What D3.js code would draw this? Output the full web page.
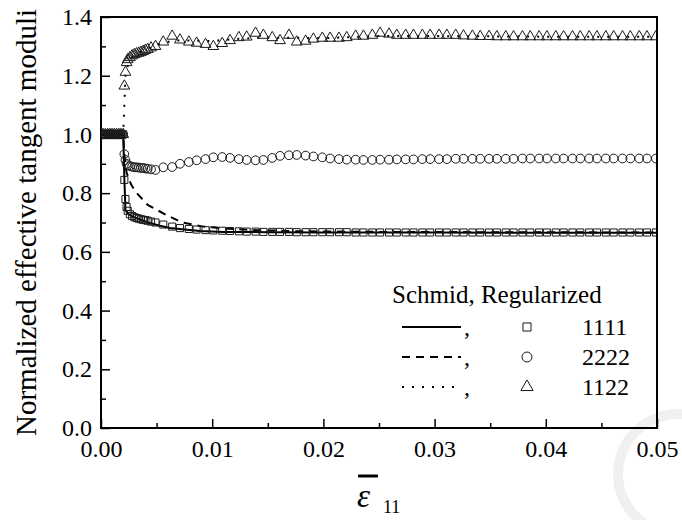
<!DOCTYPE html>
<html>
<head>
<meta charset="utf-8">
<script src="https://d3js.org/d3.v7.min.js"></script>
<style>
  body { margin: 0; background: #fff; }
  svg { display: block; }
  text { font-family: "Liberation Serif", "Times New Roman", serif; fill: #000; }
</style>
</head>
<body>
<div id="chart"></div>
<script>
// component labels, in legend order
const components = ['1111', '2222', '1122'];

// axis ticks
const xTicks = [0, 0.01, 0.02, 0.03, 0.04, 0.05];
const xMinor = [0.005, 0.015, 0.025, 0.035, 0.045];
const yTicks = [0, 0.2, 0.4, 0.6, 0.8, 1.0, 1.2, 1.4];
const yMinor = [0.1, 0.3, 0.5, 0.7, 0.9, 1.1, 1.3];

// Regularized model (markers), shared strain steps
const strainReg = [
    0.0000, 0.0002, 0.0004, 0.0006, 0.0008, 0.0010, 0.0012, 0.0014, 0.0016, 0.0018,
    0.0020, 0.0021, 0.0022, 0.0023, 0.0024, 0.0026, 0.0028, 0.0030, 0.0032, 0.0034,
    0.0036, 0.0038, 0.0040, 0.0042, 0.0045, 0.0049,
    0.0056, 0.0064, 0.0071, 0.0079, 0.0086, 0.0094, 0.0101, 0.0109, 0.0116, 0.0124,
    0.0131, 0.0139, 0.0146, 0.0154, 0.0161, 0.0169, 0.0176, 0.0184, 0.0191, 0.0199,
    0.0206, 0.0214, 0.0221, 0.0229, 0.0236, 0.0244, 0.0251, 0.0259, 0.0266, 0.0274,
    0.0281, 0.0289, 0.0296, 0.0304, 0.0311, 0.0319, 0.0326, 0.0334, 0.0341, 0.0349,
    0.0356, 0.0364, 0.0371, 0.0379, 0.0386, 0.0394, 0.0401, 0.0409, 0.0416, 0.0424,
    0.0431, 0.0439, 0.0446, 0.0454, 0.0461, 0.0469, 0.0476, 0.0484, 0.0491, 0.0499
];
const reg1111 = [
    1, 1, 1, 1, 1, 1, 1, 1, 1, 1,
    1.000, 0.845, 0.780, 0.753, 0.740, 0.728, 0.722, 0.718, 0.715, 0.713,
    0.711, 0.709, 0.708, 0.706, 0.703, 0.700,
    0.693, 0.686, 0.681, 0.678, 0.676, 0.674, 0.673, 0.672, 0.671, 0.670,
    0.669, 0.669, 0.668, 0.668, 0.668, 0.668, 0.667, 0.667, 0.667, 0.667,
    0.667, 0.667, 0.667, 0.666, 0.666, 0.666, 0.666, 0.666, 0.666, 0.666,
    0.666, 0.666, 0.666, 0.666, 0.666, 0.666, 0.666, 0.666, 0.666, 0.666,
    0.666, 0.666, 0.666, 0.666, 0.666, 0.666, 0.666, 0.666, 0.666, 0.666,
    0.666, 0.666, 0.666, 0.666, 0.666, 0.666, 0.666, 0.666, 0.666, 0.666
];
const reg2222 = [
    1, 1, 1, 1, 1, 1, 1, 1, 1, 1,
    1.000, 0.933, 0.913, 0.900, 0.895, 0.892, 0.890, 0.888, 0.888, 0.887,
    0.886, 0.886, 0.884, 0.883, 0.881, 0.879,
    0.888, 0.889, 0.900, 0.906, 0.912, 0.916, 0.922, 0.923, 0.920, 0.916,
    0.913, 0.912, 0.913, 0.920, 0.927, 0.929, 0.930, 0.928, 0.925, 0.922,
    0.918, 0.916, 0.914, 0.914, 0.913, 0.913, 0.914, 0.914, 0.915, 0.915,
    0.915, 0.916, 0.916, 0.916, 0.916, 0.917, 0.917, 0.917, 0.917, 0.917,
    0.917, 0.917, 0.917, 0.918, 0.918, 0.918, 0.918, 0.918, 0.918, 0.918,
    0.918, 0.918, 0.918, 0.918, 0.918, 0.918, 0.918, 0.918, 0.918, 0.918
];
const reg1122 = [
    1, 1, 1, 1, 1, 1, 1, 1, 1, 1,
    1.000, 1.165, 1.212, 1.245, 1.255, 1.262, 1.268, 1.272, 1.275, 1.277,
    1.280, 1.283, 1.287, 1.290, 1.295, 1.300,
    1.315, 1.335, 1.322, 1.315, 1.311, 1.307, 1.300, 1.310, 1.320, 1.330,
    1.332, 1.345, 1.338, 1.330, 1.320, 1.338, 1.315, 1.318, 1.325, 1.328,
    1.328, 1.328, 1.330, 1.335, 1.335, 1.338, 1.345, 1.342, 1.338, 1.338,
    1.338, 1.338, 1.338, 1.338, 1.338, 1.338, 1.336, 1.335, 1.334, 1.334,
    1.333, 1.333, 1.333, 1.333, 1.333, 1.333, 1.333, 1.333, 1.333, 1.333,
    1.333, 1.333, 1.333, 1.333, 1.333, 1.333, 1.333, 1.333, 1.333, 1.333
];

// Schmid model (lines)
const strain1111 = [0, 0.0020, 0.0021, 0.0022, 0.0025, 0.0029, 0.0035, 0.0044, 0.0053, 0.0062, 0.0075, 0.0089, 0.011, 0.015, 0.020, 0.030, 0.040, 0.050];
const schmid1111 = [1, 1, 0.850, 0.742, 0.728, 0.719, 0.710, 0.698, 0.689, 0.681, 0.676, 0.671, 0.668, 0.667, 0.666, 0.666, 0.665, 0.665];
const strain2222 = [0, 0.0020, 0.0021, 0.0023, 0.0027, 0.0031, 0.0042, 0.0059, 0.0073, 0.0092, 0.011, 0.014, 0.018, 0.025, 0.035, 0.050];
const schmid2222 = [1, 1, 0.930, 0.870, 0.830, 0.805, 0.760, 0.725, 0.700, 0.686, 0.680, 0.674, 0.670, 0.668, 0.667, 0.666];
const strain1122 = [0, 0.0020, 0.0021, 0.0022, 0.0025, 0.0030, 0.0040, 0.0050, 0.0065, 0.0080, 0.010, 0.012, 0.015, 0.020, 0.025, 0.030, 0.040, 0.050];
const schmid1122 = [1, 1, 1.100, 1.200, 1.250, 1.270, 1.290, 1.305, 1.320, 1.320, 1.318, 1.325, 1.330, 1.328, 1.335, 1.335, 1.333, 1.333];

const width = 682;
const height = 520;
const margin = { top: 17, right: 25, bottom: 92, left: 101 };
const w = width - margin.left - margin.right;
const h = height - margin.top - margin.bottom;
const fontSize = 24;
const serif = '"Liberation Serif", "Times New Roman", serif';

const svg = d3.select('#chart')
    .append('svg')
    .attr('width', width)
    .attr('height', height)
    .attr('font-family', serif);

// faint watermark arc in the corner
svg.append('path')
    .attr('d', d3.arc()({ innerRadius: 55, outerRadius: 65, startAngle: 3.6, endAngle: 6.45 }))
    .attr('transform', 'translate(678,474)')
    .attr('fill', '#f0f0f0');

const g = svg.append('g')
    .attr('transform', `translate(${margin.left},${margin.top})`);

const x = d3.scaleLinear().domain([0, 0.05]).range([0, w]);
const y = d3.scaleLinear().domain([0, 1.4]).range([h, 0]);

g.append('defs').append('clipPath').attr('id', 'plotClip')
    .append('rect').attr('width', w).attr('height', h);

// axes, ticks pointing inward
function styleAxis(sel) {
    sel.select('.domain').remove();
    sel.selectAll('line').attr('stroke', '#000').attr('stroke-width', 1.5);
    sel.attr('font-size', fontSize).attr('font-family', serif);
}

g.append('g')
    .attr('transform', `translate(0,${h})`)
    .call(d3.axisBottom(x).tickValues(xTicks).tickFormat(d3.format('.2f')).tickSize(-9).tickPadding(12))
    .call(styleAxis);
g.append('g')
    .attr('transform', `translate(0,${h})`)
    .call(d3.axisBottom(x).tickValues(xMinor).tickFormat('').tickSize(-5))
    .call(styleAxis);
g.append('g')
    .call(d3.axisLeft(y).tickValues(yTicks).tickFormat(d3.format('.1f')).tickSize(-9).tickPadding(9))
    .call(styleAxis);
g.append('g')
    .call(d3.axisLeft(y).tickValues(yMinor).tickFormat('').tickSize(-5))
    .call(styleAxis);

g.append('rect')
    .attr('width', w)
    .attr('height', h)
    .attr('fill', 'none')
    .attr('stroke', '#000')
    .attr('stroke-width', 2);

// Schmid curves
const line = d3.line().x(d => x(d[0])).y(d => y(d[1]));
const schmid = [
    { pts: d3.zip(strain1111, schmid1111), dash: null },
    { pts: d3.zip(strain2222, schmid2222), dash: '8,6' },
    { pts: d3.zip(strain1122, schmid1122), dash: '2,8' }
];
const plot = g.append('g').attr('clip-path', 'url(#plotClip)');

plot.selectAll('path.schmid')
    .data(schmid)
    .enter()
    .append('path')
    .attr('class', 'schmid')
    .attr('d', d => line(d.pts))
    .attr('fill', 'none')
    .attr('stroke', '#000')
    .attr('stroke-width', 2)
    .attr('stroke-dasharray', d => d.dash);

// Regularized markers
const regularized = [
    { vals: reg1111, shape: d3.symbolSquare, size: 50 },
    { vals: reg2222, shape: d3.symbolCircle, size: 60 },
    { vals: reg1122, shape: d3.symbolTriangle, size: 50 }
];
regularized.forEach(s => {
    plot.append('g')
        .selectAll('path')
        .data(d3.zip(strainReg, s.vals))
        .enter()
        .append('path')
        .attr('d', d3.symbol().type(s.shape).size(s.size))
        .attr('transform', d => `translate(${x(d[0])},${y(d[1])})`)
        .attr('fill', 'none')
        .attr('stroke', '#1a1a1a')
        .attr('stroke-width', 1);
});

// legend
const legend = svg.append('g');
legend.append('text')
    .attr('x', 392)
    .attr('y', 303)
    .attr('font-size', 25)
    .text('Schmid, Regularized');

components.forEach((c, i) => {
    const rowY = 327 + i * 30;
    legend.append('line')
        .attr('x1', 402).attr('x2', 461)
        .attr('y1', rowY).attr('y2', rowY)
        .attr('stroke', '#000')
        .attr('stroke-width', 2)
        .attr('stroke-dasharray', schmid[i].dash);
    legend.append('text')
        .attr('x', 464).attr('y', rowY + 8)
        .attr('font-size', fontSize)
        .text(',');
    legend.append('path')
        .attr('d', d3.symbol().type(regularized[i].shape).size(regularized[i].size * 1.3))
        .attr('transform', `translate(527,${rowY})`)
        .attr('fill', 'none')
        .attr('stroke', '#1a1a1a')
        .attr('stroke-width', 1);
    legend.append('text')
        .attr('x', 582).attr('y', rowY + 8)
        .attr('font-size', fontSize)
        .text(c);
});

// y axis title
svg.append('text')
    .attr('transform', `translate(36,${margin.top + h / 2}) rotate(-90)`)
    .attr('text-anchor', 'middle')
    .attr('font-size', 29)
    .text('Normalized effective tangent moduli');

// x axis title: overbar epsilon with subscript 11
const xt = svg.append('g');
xt.append('line')
    .attr('x1', 358).attr('x2', 378)
    .attr('y1', 476).attr('y2', 476)
    .attr('stroke', '#000')
    .attr('stroke-width', 3);
xt.append('text')
    .attr('x', 357).attr('y', 507)
    .attr('font-size', 33)
    .attr('font-style', 'italic')
    .text('ε');
xt.append('text')
    .attr('x', 383).attr('y', 513)
    .attr('font-size', 18)
    .text('11');
</script>
</body>
</html>
